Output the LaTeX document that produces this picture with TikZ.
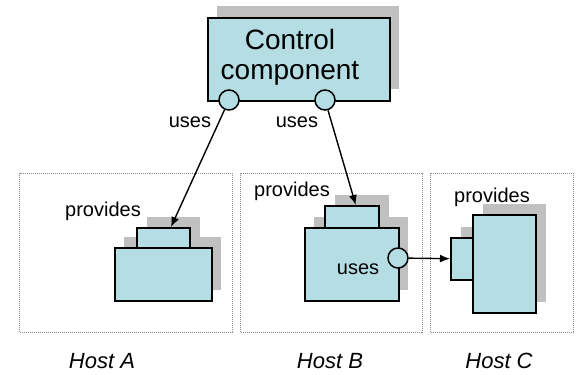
\documentclass[tikz,border=0pt]{standalone}
\usepackage{fontspec}
\setmainfont{Liberation Sans}
\usetikzlibrary{arrows.meta,calc}
\definecolor{compfill}{RGB}{180,222,228}
\definecolor{shadowgray}{RGB}{192,192,192}
\definecolor{hostline}{RGB}{140,140,140}
\tikzset{
  compbox/.style={draw=black, line width=1.7pt, fill=compfill, inner sep=0pt, anchor=north west},
  shadowbox/.style={fill=shadowgray, draw=none, inner sep=0pt, anchor=north west},
  hostbox/.style={draw=hostline, line width=1pt, dash pattern=on 1pt off 1pt, inner sep=0pt, anchor=north west},
  port/.style={circle, draw=black, line width=1.5pt, fill=compfill, minimum size=20pt, inner sep=0pt},
  conn/.style={draw=black, line width=1.4pt, -{Latex[length=10pt,width=8pt]}},
  lbl/.style={font=\fontsize{20}{22}\selectfont, anchor=base, inner sep=0pt},
  hostlbl/.style={font=\fontsize{22}{24}\selectfont\itshape, anchor=base, inner sep=0pt},
}
\begin{document}
\begin{tikzpicture}[x=1pt,y=-1pt]
\useasboundingbox[fill=white] (0,0) rectangle (576,375);
% host boxes
\node[hostbox, minimum width=213pt, minimum height=159pt] (hostA) at (19,173) {};
\node[hostbox, minimum width=182pt, minimum height=159pt] (hostB) at (240,173) {};
\node[hostbox, minimum width=143pt, minimum height=159pt] (hostC) at (430,173) {};
% control component
\node[shadowbox, minimum width=182pt, minimum height=83pt] (ctrlS) at (217,6) {};
\node[compbox, minimum width=182pt, minimum height=83pt] (ctrl) at (207,17) {};
\node[font=\fontsize{28}{30}\selectfont, align=center, inner sep=0pt] (ctrlT) at (290,57) {Control\\component};
\node[port] (cA) at (229,100) {};
\node[port] (cB) at (325,100) {};
% host A component
\node[shadowbox, minimum width=53pt, minimum height=20pt] (AtopS) at (147,217) {};
\node[shadowbox, minimum width=97pt, minimum height=53pt] (AbigS) at (124,237) {};
\node[compbox, minimum width=53pt, minimum height=20pt] (Atop) at (136,227) {};
\node[compbox, minimum width=97pt, minimum height=53pt] (Abig) at (114,247) {};
% host B component
\node[shadowbox, minimum width=54pt, minimum height=22pt] (BtopS) at (335,195) {};
\node[shadowbox, minimum width=94pt, minimum height=73pt] (BbigS) at (314,217) {};
\node[compbox, minimum width=54pt, minimum height=22pt] (Btop) at (324,205) {};
\node[compbox, minimum width=94pt, minimum height=73pt] (Bbig) at (304,227) {};
\node[port] (cBB) at (398,258) {};
% host C component
\node[shadowbox, minimum width=22pt, minimum height=42pt] (CsmallS) at (461,227) {};
\node[shadowbox, minimum width=63pt, minimum height=98pt] (CbigS) at (483,204) {};
\node[compbox, minimum width=22pt, minimum height=42pt] (Csmall) at (450,237) {};
\node[compbox, minimum width=63pt, minimum height=98pt] (Cbig) at (472,214) {};
% labels
\node[lbl] (usesA) at (190,127) {uses};
\node[lbl] (usesB) at (297,127) {uses};
\node[lbl] (usesBB) at (358,274) {uses};
\node[lbl] (provA) at (103,216) {provides};
\node[lbl] (provB) at (292,196) {provides};
\node[lbl] (provC) at (492,202) {provides};
\node[hostlbl] (hA) at (102,368) {Host A};
\node[hostlbl] (hB) at (330,368) {Host B};
\node[hostlbl] (hC) at (499,368) {Host C};
% connectors
\coordinate (tA) at ($(Atop.north west)!0.64!(Atop.north east)$);
\coordinate (tB) at ($(Btop.north west)!0.57!(Btop.north east)$);
\draw[conn] (cA) -- (tA);
\draw[conn] (cB) -- (tB);
\draw[conn] (cBB) -- (Csmall);
\end{tikzpicture}
\end{document}
